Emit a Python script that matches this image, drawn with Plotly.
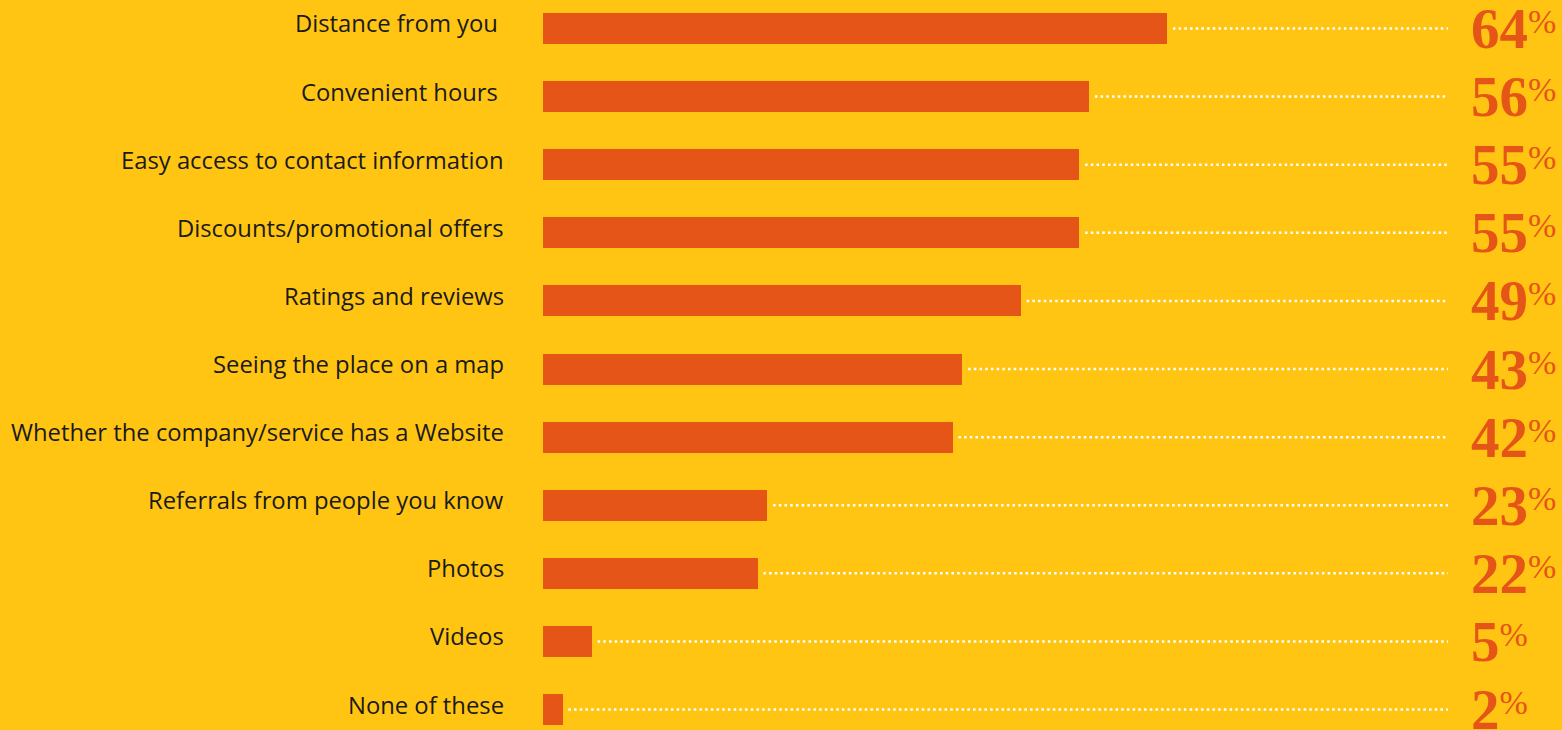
import plotly.graph_objects as go

# Survey responses: what matters when choosing a local business
categories = [
    "Distance from you\u00a0",
    "Convenient hours\u00a0",
    "Easy access to contact information",
    "Discounts/promotional offers",
    "Ratings and reviews",
    "Seeing the place on a map",
    "Whether the company/service has a Website",
    "Referrals from people you know",
    "Photos",
    "Videos",
    "None of these",
]
values = [64, 56, 55, 55, 49, 43, 42, 23, 22, 5, 2]

BG = "#FFC512"
ORANGE = "#E65518"
LEADER_END = 92.8     # where the dotted leader lines stop (axis units)
LABEL_X = 95.0        # left edge of the value labels (axis units)
LEADER_GAP = 0.6

fig = go.Figure()

# dotted leader lines from the end of each bar to the value label
for cat, v in zip(categories, values):
    fig.add_trace(go.Scatter(
        x=[v + LEADER_GAP, LEADER_END], y=[cat, cat],
        mode="lines",
        line=dict(color="white", width=2.5, dash="2.5px,3.2px"),
        hoverinfo="skip", showlegend=False,
    ))

fig.add_trace(go.Bar(
    x=values, y=categories, orientation="h",
    marker=dict(color=ORANGE, line=dict(width=0)),
    width=0.455, showlegend=False,
))

for cat, v in zip(categories, values):
    # category name, right-aligned left of the bars
    fig.add_annotation(
        x=0, y=cat, xref="x", yref="y",
        xanchor="right", yanchor="middle",
        text=cat, showarrow=False, xshift=-37, yshift=5,
        font=dict(family="Open Sans", size=23.8, color="#1a1a1a"),
    )
    # big serif percentage with a raised % sign
    fig.add_annotation(
        x=LABEL_X, y=cat, xref="x", yref="y",
        xanchor="left", yanchor="middle",
        text=(f"<b><span style='font-size:57px'>{v}</span></b>"
              f"<sup><span style='font-size:34px'>%</span></sup>"),
        showarrow=False, yshift=0,
        font=dict(family="Liberation Serif", size=36, color=ORANGE),
    )

fig.update_layout(
    width=1562, height=730,
    margin=dict(l=543, r=0, t=0, b=0),
    paper_bgcolor=BG, plot_bgcolor=BG,
    bargap=0,
)
fig.update_xaxes(range=[0, 104.5], visible=False, fixedrange=True)
fig.update_yaxes(
    type="category", categoryorder="array", categoryarray=categories,
    range=[10.30, -0.418],
    showgrid=False, zeroline=False, showline=False, ticks="",
    showticklabels=False,
)

fig.write_html("out.html")
